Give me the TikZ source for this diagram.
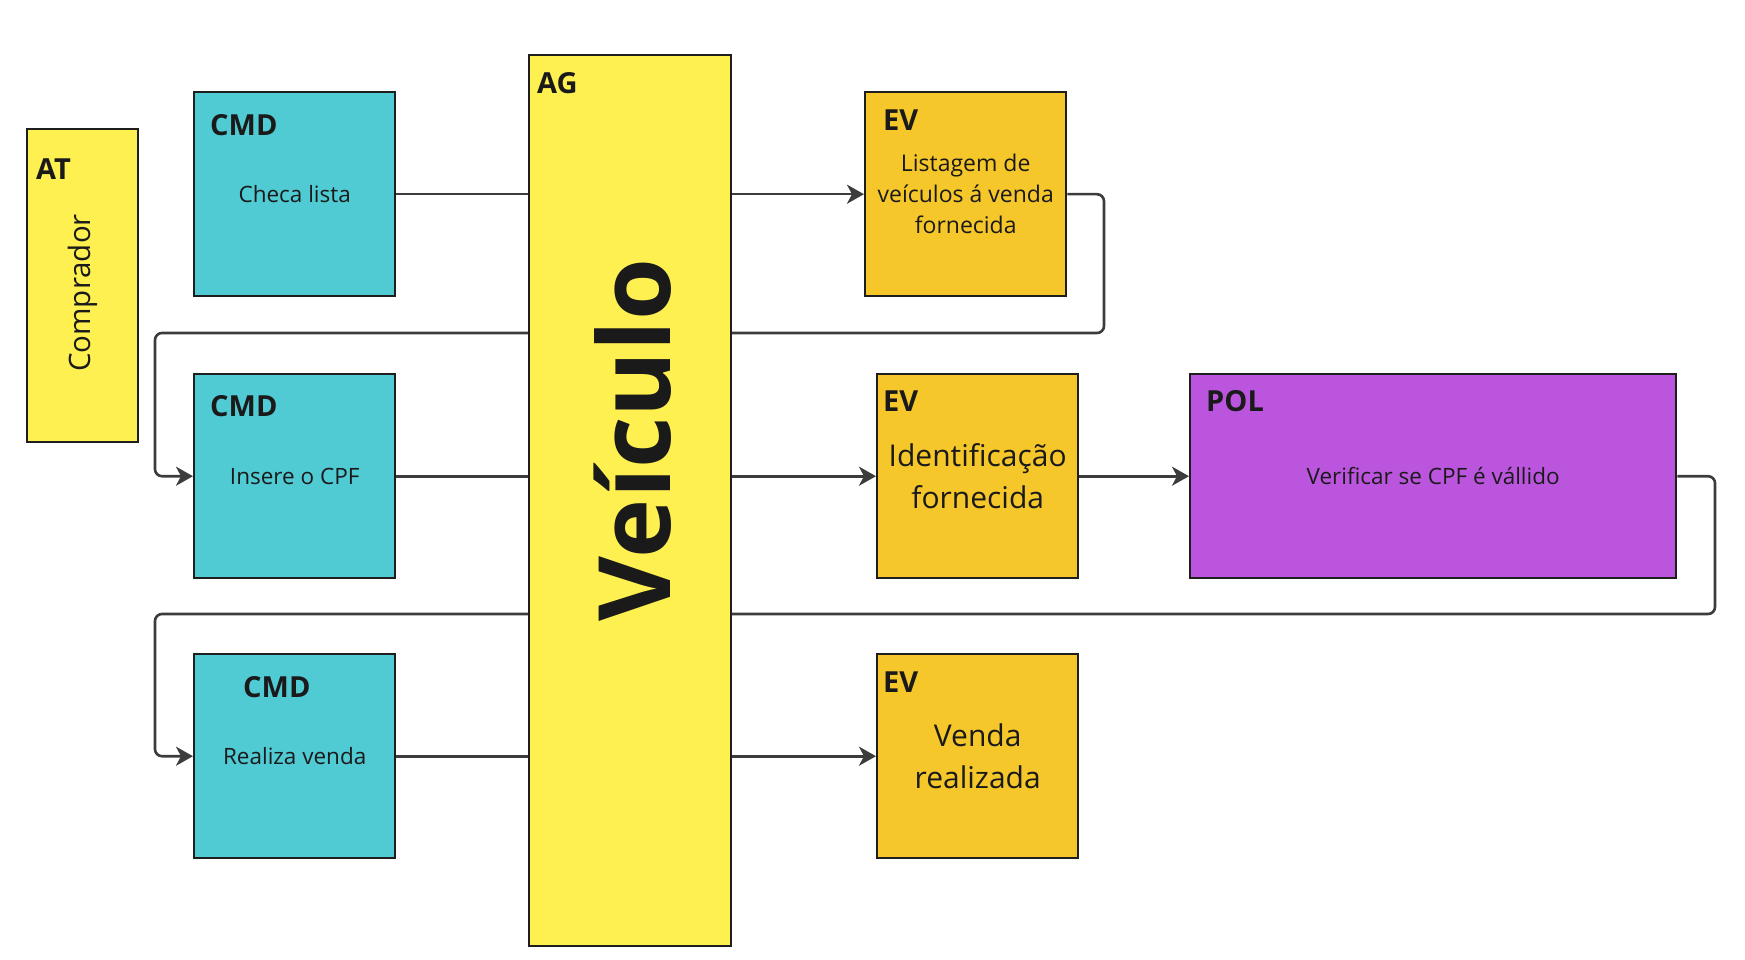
\documentclass[tikz,border=0pt]{standalone}
\usepackage{fontspec}
\setmainfont{Open Sans}
\usetikzlibrary{arrows.meta,backgrounds}
\definecolor{cmdc}{HTML}{50CAD3}
\definecolor{yel}{HTML}{FEF050}
\definecolor{gold}{HTML}{F5C72A}
\definecolor{purp}{HTML}{BC55DE}
\definecolor{edge}{HTML}{1E1E1E}
\definecolor{ink}{HTML}{1A1A1A}
\definecolor{linec}{HTML}{3C3C3C}
\begin{document}
\begin{tikzpicture}[x=1pt,y=-1pt,
  box/.style={draw=edge, line width=2.4pt, inner sep=0pt, text=ink, anchor=north west},
  sq/.style={box, minimum width=201pt, minimum height=204pt},
  hdr/.style={font=\fontsize{29}{34}\selectfont\bfseries, text=ink, inner sep=0pt, anchor=west},
  body/.style={font=\fontsize{22.5}{30}\selectfont, align=center},
  conn/.style={draw=linec, line width=2.6pt, rounded corners=7pt},
  arr/.style={-{Stealth[length=17pt,width=19pt,inset=5pt]}}]
\useasboundingbox (0,0) rectangle (1745,960);

% actor
\node[box, fill=yel, minimum width=111pt, minimum height=313pt] (at) at (26,128) {};
\node[hdr] (atl) at (36,169) {AT};
\node[rotate=90, font=\fontsize{29.5}{34}\selectfont, text=ink, inner sep=0pt] (comp) at (83,293) {Comprador};

% commands
\node[sq, fill=cmdc, body] (cmd1) at (193,91) {Checa lista};
\node[hdr] (cmd1l) at (210,125) {CMD};
\node[sq, fill=cmdc, body] (cmd2) at (193,373) {Insere o CPF};
\node[hdr] (cmd2l) at (210,406) {CMD};
\node[sq, fill=cmdc, body] (cmd3) at (193,653) {Realiza venda};
\node[hdr] (cmd3l) at (243,687) {CMD};

% aggregate
\node[box, fill=yel, minimum width=202pt, minimum height=891pt] (ag) at (528,54) {};
\node[hdr] (agl) at (537,83) {AG};
\node[rotate=90, font=\fontsize{100}{100}\selectfont\bfseries, text=ink, inner sep=0pt] (veic) at (633,440) {Veículo};

% events
\node[sq, fill=gold, font=\fontsize{23}{31}\selectfont, align=center] (ev1) at (864,91) {Listagem de\\veículos á venda\\fornecida};
\node[hdr] (ev1l) at (883,120) {EV};
\node[sq, fill=gold, font=\fontsize{30}{42}\selectfont, align=center] (ev2) at (876,373) {Identificação\\fornecida};
\node[hdr] (ev2l) at (883,401) {EV};
\node[sq, fill=gold, font=\fontsize{30}{42}\selectfont, align=center] (ev3) at (876,653) {Venda\\realizada};
\node[hdr] (ev3l) at (883,682) {EV};

% policy
\node[box, fill=purp, minimum width=486pt, minimum height=204pt, body] (pol) at (1189,373) {Verificar se CPF é vállido};
\node[hdr] (poll) at (1206,401) {POL};

\begin{pgfonlayer}{background}
  \draw[conn] (cmd1.east) -- (cmd1.east -| ag.west);
  \draw[conn,arr] (ev1.west -| ag.east) -- (ev1.west);
  \draw[conn,arr] (ev1.east) -| (1104,333) -- (155,333) |- (cmd2.west);
  \draw[conn] (cmd2.east) -- (cmd2.east -| ag.west);
  \draw[conn,arr] (ev2.west -| ag.east) -- (ev2.west);
  \draw[conn,arr] (ev2.east) -- (pol.west);
  \draw[conn,arr] (pol.east) -| (1715,614) -- (155,614) |- (cmd3.west);
  \draw[conn] (cmd3.east) -- (cmd3.east -| ag.west);
  \draw[conn,arr] (ev3.west -| ag.east) -- (ev3.west);
\end{pgfonlayer}
\end{tikzpicture}
\end{document}
